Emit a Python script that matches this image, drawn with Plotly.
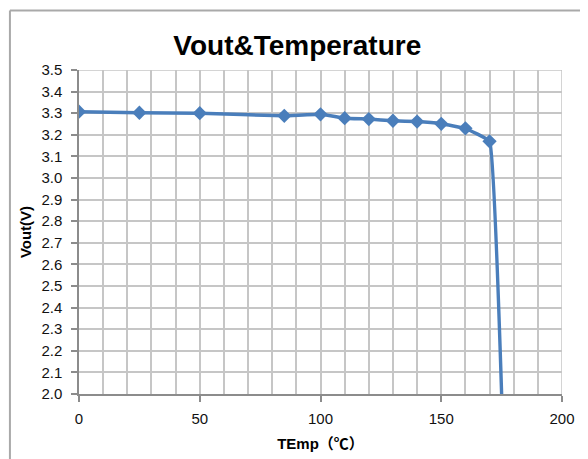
import plotly.graph_objects as go

# temperature (C) and output voltage (V)
temp = [0, 25, 50, 85, 100, 110, 120, 130, 140, 150, 160, 170, 180]
vout = [3.307, 3.302, 3.300, 3.288, 3.295, 3.277, 3.273, 3.265, 3.261, 3.251, 3.230, 3.170, 0.0]

y_ticks = [2.0, 2.1, 2.2, 2.3, 2.4, 2.5, 2.6, 2.7, 2.8, 2.9, 3.0, 3.1, 3.2, 3.3, 3.4, 3.5]
x_ticks = [0, 50, 100, 150, 200]

blue = '#4a7ebb'
grid = '#c6c6c6'
font = "Liberation Sans, Arial, Noto Sans CJK SC, sans-serif"

fig = go.Figure()
fig.add_trace(go.Scatter(x=temp, y=vout, mode='lines+markers',
                         line=dict(color=blue, width=3.5, shape='spline', smoothing=0.2),
                         marker=dict(symbol='diamond', size=11, color=blue),
                         showlegend=False))

# page body adds 8px offset, so margins are shifted to keep the plot area in place
fig.update_layout(width=588, height=459, margin=dict(l=71, r=34, t=62, b=73),
                  plot_bgcolor='white', paper_bgcolor='white',
                  font=dict(family=font, size=15, color='#111111'))

fig.update_layout(title=dict(text='<b>Vout&Temperature</b>', x=0.492, xanchor='center',
                             y=0.918, yanchor='middle', automargin=False,
                             font=dict(family=font, size=28, color='black')))

fig.update_xaxes(range=[0, 200], tickvals=x_ticks, ticktext=[str(v) for v in x_ticks],
                 automargin=False,
                 showgrid=True, gridcolor=grid, gridwidth=1.5,
                 minor=dict(dtick=10, tick0=0, showgrid=True, gridcolor=grid, gridwidth=1.5),
                 showline=True, linecolor='#8c8c8c', linewidth=1.5,
                 ticks='outside', ticklen=6, tickcolor='#8c8c8c', tickwidth=1.5,
                 ticklabelstandoff=4,
                 zeroline=False, tickfont=dict(size=15),
                 title=dict(text='<b>TEmp（℃）</b>', font=dict(size=15, color='black'), standoff=13))

fig.update_yaxes(range=[2.0, 3.5], tickvals=y_ticks, ticktext=['%.1f' % v for v in y_ticks],
                 automargin=False,
                 showgrid=True, gridcolor=grid, gridwidth=1.5,
                 showline=True, linecolor='#8c8c8c', linewidth=1.5,
                 ticks='outside', ticklen=6, tickcolor='#8c8c8c', tickwidth=1.5,
                 ticklabelstandoff=6,
                 zeroline=False, tickfont=dict(size=15),
                 title=dict(text='<b>Vout(V)</b>', font=dict(size=15, color='black'), standoff=6))

# top/right edges of the plot area
fig.add_shape(type='line', xref='x', yref='y', x0=0, x1=200, y0=3.5, y1=3.5,
              line=dict(color=grid, width=1.5))
fig.add_shape(type='line', xref='x', yref='y', x0=200, x1=200, y0=2.0, y1=3.5,
              line=dict(color=grid, width=1.5))

# outer chart frame (top and left edges visible)
fig.add_shape(type='line', xref='paper', yref='paper', x0=-0.143, x1=1.2, y0=1.184, y1=1.184,
              line=dict(color='#a9a9a9', width=2))
fig.add_shape(type='line', xref='paper', yref='paper', x0=-0.143, x1=-0.143, y0=-0.3, y1=1.184,
              line=dict(color='#a9a9a9', width=2))

fig.write_html("out.html")
